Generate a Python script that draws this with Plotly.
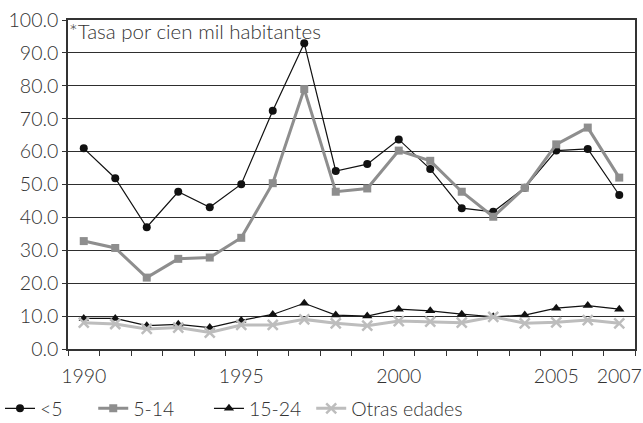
import plotly.graph_objects as go

years = list(range(1990, 2008))
menor5 = [61.0, 51.9, 37.0, 47.8, 43.1, 50.1, 72.4, 92.9, 54.1, 56.2, 63.7, 54.7, 42.8, 41.7, 49.0, 60.3, 60.8, 46.8]
g5_14 = [32.8, 30.7, 21.7, 27.4, 27.8, 33.8, 50.4, 79.0, 47.8, 48.8, 60.3, 57.2, 47.8, 40.2, 49.0, 62.2, 67.3, 52.1]
g15_24 = [9.3, 9.3, 7.1, 7.5, 6.5, 8.7, 10.5, 13.9, 10.3, 10.0, 12.1, 11.6, 10.6, 9.8, 10.3, 12.4, 13.2, 12.1]
otras = [8.0, 7.6, 6.1, 6.5, 5.0, 7.3, 7.3, 9.0, 7.8, 7.1, 8.5, 8.3, 8.0, 9.8, 7.8, 8.1, 8.8, 7.8]
label_years = [1990, 1995, 2000, 2005, 2007]
names = ["<5", "5-14", "15-24", "Otras edades"]
note = "*Tasa por cien mil habitantes"

FONT = "Lato"
W = 300
TXT = "#333333"

fig = go.Figure()
fig.add_trace(go.Scatter(x=years, y=menor5, name=names[0], mode="lines+markers", legend="legend",
                         line=dict(color="#111111", width=1.2),
                         marker=dict(symbol="circle", size=8, color="#111111")))
fig.add_trace(go.Scatter(x=years, y=g5_14, name=names[1], mode="lines+markers", legend="legend2",
                         line=dict(color="#8e8e8e", width=3),
                         marker=dict(symbol="square", size=8, color="#8e8e8e")))
fig.add_trace(go.Scatter(x=years, y=g15_24, name=names[2], mode="lines+markers", legend="legend3",
                         line=dict(color="#111111", width=1.2),
                         marker=dict(symbol="triangle-up", size=9, color="#111111")))
fig.add_trace(go.Scatter(x=years, y=otras, name=names[3], mode="lines+markers", legend="legend4",
                         line=dict(color="#bdbdbd", width=3),
                         marker=dict(symbol="x-thin", size=10, color="#bdbdbd",
                                     line=dict(color="#bdbdbd", width=2.5))))

bounds = [y - 0.5 for y in years] + [years[-1] + 0.5]

def leg(x):
    return dict(orientation="h", xref="container", yref="container", x=x, xanchor="left",
                y=0.080, yanchor="top", font=dict(family=FONT, size=19.5, color=TXT, weight=W),
                bgcolor="rgba(0,0,0,0)")

fig.update_layout(
    width=643, height=423,
    margin=dict(l=68, r=8, t=20, b=74),
    paper_bgcolor="white", plot_bgcolor="white",
    font=dict(family=FONT, size=19.5, color=TXT, weight=W),
    showlegend=True,
    legend=leg(-0.005), legend2=leg(0.145), legend3=leg(0.325), legend4=leg(0.484),
    xaxis=dict(range=[bounds[0], bounds[-1]], tickmode="array", tickvals=label_years,
               ticktext=[str(v) for v in label_years], automargin=False,
               ticks="outside", ticklen=9, tickcolor="rgba(0,0,0,0)",
               showgrid=False, zeroline=False,
               showline=True, linecolor="#333333", linewidth=1.5, mirror=True,
               minor=dict(tickmode="array", tickvals=bounds, ticks="outside",
                          ticklen=5, tickcolor="#333333", tickwidth=1.2, showgrid=False),
               tickfont=dict(family=FONT, size=19.5, color=TXT, weight=W)),
    yaxis=dict(range=[0, 100], dtick=10, tickformat=".1f", automargin=False,
               ticks="outside", ticklen=4, tickcolor="#333333", tickwidth=1.2,
               showgrid=True, gridcolor="#2e2e2e", gridwidth=1.4,
               zeroline=False, showline=True, linecolor="#333333", linewidth=1.5, mirror=True,
               tickfont=dict(family=FONT, size=19.5, color=TXT, weight=W)),
    annotations=[dict(text=note, xref="paper", yref="paper", x=0.0, y=1.0,
                      xanchor="left", yanchor="top", showarrow=False,
                      font=dict(family=FONT, size=20.5, color=TXT, weight=W), xshift=-1, yshift=3)],
)

fig.write_html("out.html", config={"displayModeBar": False},
               post_script="document.body.style.margin='0';document.body.style.overflow='hidden';")
